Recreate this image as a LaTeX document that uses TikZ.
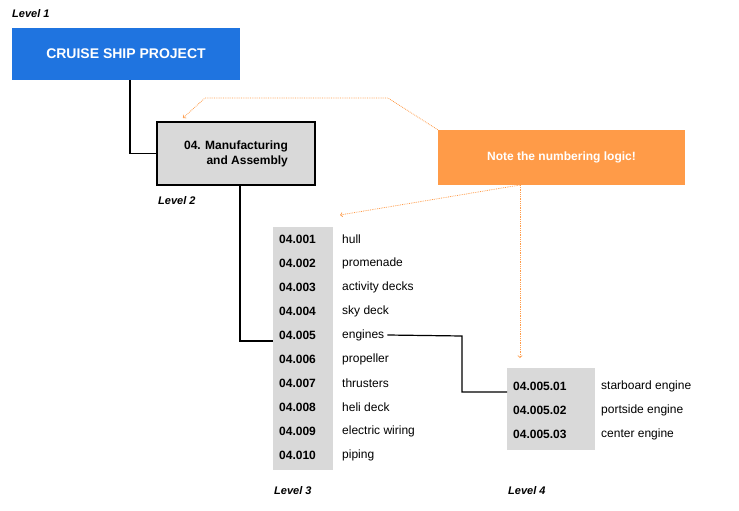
\documentclass[tikz,border=0pt]{standalone}
\usepackage{fontspec}
\setmainfont{Liberation Sans}
\usetikzlibrary{positioning, arrows}

\definecolor{shipblue}{HTML}{1F74E0}
\definecolor{noteorange}{HTML}{FF9B48}
\definecolor{cellgray}{HTML}{D9D9D9}

\tikzset{
    lvl/.style={font=\bfseries\itshape\fontsize{11}{13}\selectfont, anchor=west, inner sep=0pt},
    code/.style={font=\bfseries\fontsize{12}{14}\selectfont, anchor=west, inner sep=0pt},
    item/.style={font=\fontsize{12}{14}\selectfont, anchor=west, inner sep=0pt},
    hint/.style={noteorange, densely dotted, thick, ->, >=to},
}

\begin{document}
\begin{tikzpicture}[x=1pt, y=-1pt]
    \useasboundingbox (0,0) rectangle (739,511);

    % boxes
    \node[lvl] (l1) at (12,14) {Level 1};
    \node[fill=shipblue, minimum width=228pt, minimum height=52pt, text=white,
          font=\bfseries\fontsize{14}{16}\selectfont] (project) at (126,54) {CRUISE SHIP PROJECT};
    \node[fill=cellgray, draw=black, line width=1.5pt, minimum width=158pt, minimum height=63pt,
          align=right, font=\bfseries\fontsize{12}{15}\selectfont] (manuf) at (236,153.5)
          {04. Manufacturing\\ and Assembly};
    \node[lvl] (l2) at (158,201) {Level 2};
    \node[fill=noteorange, minimum width=247pt, minimum height=55pt, text=white,
          font=\bfseries\fontsize{12}{14}\selectfont] (note) at (561.5,157.5) {Note the numbering logic!};

    % level 3
    \fill[cellgray] (273,227) rectangle (333,470);
    \foreach \n/\t [count=\i] in {001/hull, 002/promenade, 003/activity decks, 004/sky deck,
        005/engines, 006/propeller, 007/thrusters, 008/heli deck, 009/electric wiring, 010/piping}{
        \node[code] (c\i) at (279,215+24*\i) {04.\n};
        \node[item] (t\i) at (342,215+24*\i) {\t};
    }
    \node[lvl] (l3) at (274,491) {Level 3};

    % level 4
    \fill[cellgray] (507,368) rectangle (595,450);
    \foreach \n/\t [count=\i] in {01/starboard engine, 02/portside engine, 03/center engine}{
        \node[code] (d\i) at (513,362+24*\i) {04.005.\n};
        \node[item] (u\i) at (601,362+24*\i) {\t};
    }
    \node[lvl] (l4) at (508,491) {Level 4};

    % connectors
    \coordinate (e3) at (273,341);
    \coordinate (e4) at (507,392);
    \draw[line width=1.2pt] (130,80) |- (manuf.west);
    \draw[line width=1.2pt] (240,185) |- (e3);
    \draw[line width=1.2pt] (t5.east) ++(3,0) -- (462,336) |- (e4);

    % hints
    \draw[hint] (note.north west) -- (388,98) -- (205,98) -- (183,118);
    \draw[hint] (520,185) -- (340,215);
    \draw[hint] (520,185) -- (520,358);
\end{tikzpicture}
\end{document}
